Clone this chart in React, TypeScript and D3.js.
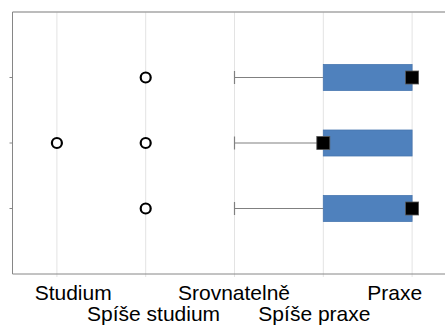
import React from "react";
import { scaleLinear, scaleBand } from "d3";

// answer categories along the x axis (1..5)
const categories = ["Studium", "Spíše studium", "Srovnatelně", "Spíše praxe", "Praxe"];
// three box plots, top to bottom
const rows = [1, 2, 3];
const whiskerLow = [3, 3, 3];
const q1 = [4, 4, 4];
const q3 = [5, 5, 5];
const medians = [5, 4, 5];
const outliers = [[2], [1, 2], [2]];

const W = 445;
const H = 326;
const left = 12.5;
const top = 12;
const bottom = 274;

export default function App() {
  const x = scaleLinear().domain([0.5, 5.5]).range([left, left + 444]);
  const y = scaleLinear().domain([0, 4]).range([top, bottom]);
  const labelX = scaleBand().domain(categories).range([33, 435]);

  const boxH = 26;
  const capH = 13;
  const sq = 13;
  const blue = "#4f81bd";

  return (
    <div style={{ position: "absolute", left: 0, top: 0 }}>
      <svg width={W} height={H} style={{ display: "block", background: "#fff" }}>
        {/* gridlines */}
        {categories.map((c, i) => (
          <line
            key={c}
            x1={x(i + 1)}
            x2={x(i + 1)}
            y1={top}
            y2={bottom + 3}
            stroke="#e3e3e3"
            strokeWidth={1}
          />
        ))}
        {/* frame */}
        <line x1={left} x2={W} y1={top} y2={top} stroke="#a6a6a6" strokeWidth={1.5} />
        <line x1={left} x2={W} y1={bottom} y2={bottom} stroke="#868686" strokeWidth={1} />
        <line x1={left} x2={left} y1={top} y2={bottom} stroke="#868686" strokeWidth={1} />
        {rows.map((r) => (
          <line key={r} x1={left - 3} x2={left} y1={y(r)} y2={y(r)} stroke="#868686" />
        ))}

        {/* boxes */}
        {rows.map((r, i) => (
          <g key={r}>
            <line
              x1={x(whiskerLow[i])}
              x2={x(q1[i])}
              y1={y(r)}
              y2={y(r)}
              stroke="#808080"
              strokeWidth={1.2}
            />
            <line
              x1={x(whiskerLow[i])}
              x2={x(whiskerLow[i])}
              y1={y(r) - capH / 2}
              y2={y(r) + capH / 2}
              stroke="#808080"
              strokeWidth={1.2}
            />
            <rect
              x={x(q1[i])}
              y={y(r) - boxH / 2}
              width={x(q3[i]) - x(q1[i])}
              height={boxH}
              fill={blue}
              stroke="#4877b0"
              strokeWidth={0.8}
            />
            <rect
              x={x(medians[i]) - sq / 2}
              y={y(r) - sq / 2}
              width={sq}
              height={sq}
              fill="#000"
              stroke="#555"
              strokeWidth={0.8}
            />
            {outliers[i].map((o) => (
              <circle
                key={o}
                cx={x(o)}
                cy={y(r)}
                r={5}
                fill="#fff"
                stroke="#000"
                strokeWidth={2.2}
              />
            ))}
          </g>
        ))}

        {/* category labels, staggered */}
        {categories.map((c, i) => (
          <text
            key={c}
            x={(labelX(c) ?? 0) + labelX.bandwidth() / 2}
            y={i % 2 === 0 ? 300 : 321}
            textAnchor="middle"
            fontFamily="'Liberation Sans', Arial, sans-serif"
            fontSize={21}
            fill="#000"
          >
            {c}
          </text>
        ))}
      </svg>
    </div>
  );
}
